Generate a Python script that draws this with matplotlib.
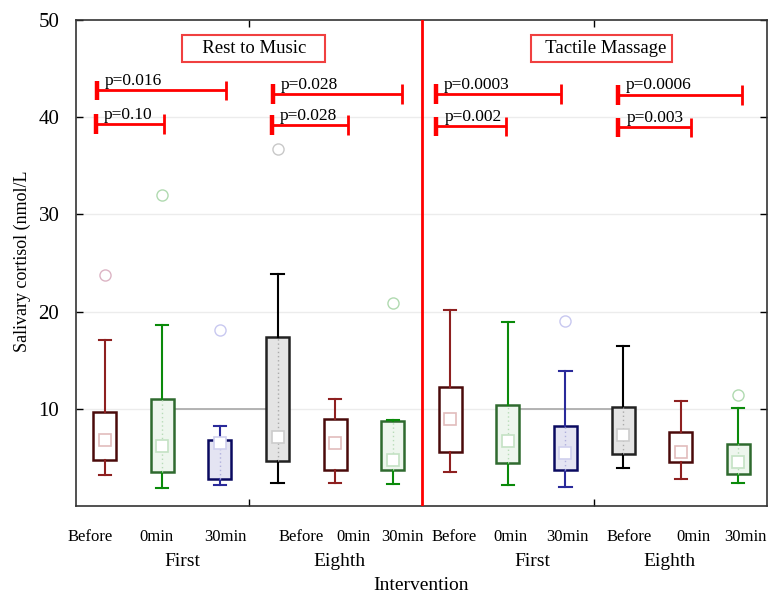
import matplotlib
matplotlib.use("Agg")
import matplotlib.pyplot as plt
import matplotlib.transforms as mtransforms

plt.rcParams['font.family'] = ['Liberation Serif', 'DejaVu Serif']

# ---------------- data ----------------
sub_labels = ["Before", "0min", "30min"] * 4
group_labels = ["First", "Eighth", "First", "Eighth"]
panel_titles = ["Rest to Music", "Tactile Massage"]

whisker_low = [3.22, 1.81, 2.16, 2.33, 2.33, 2.23, 3.49, 2.12, 1.99, 3.91, 2.81, 2.33]
q1          = [4.69, 3.49, 2.74, 4.62, 3.70, 3.70, 5.51, 4.42, 3.73, 5.38, 4.52, 3.32]
median      = [6.78, 6.20, 6.44, 7.06, 6.44, 4.69, 9.00, 6.65, 5.41, 7.26, 5.55, 4.49]
q3          = [9.69, 10.96, 6.78, 17.40, 8.91, 8.70, 12.20, 10.41, 8.19, 10.21, 7.61, 6.37]
whisker_high = [17.03, 18.67, 8.22, 23.90, 10.96, 8.80, 20.20, 18.90, 13.84, 16.41, 10.83, 10.10]
outliers = [[23.8], [32.0], [18.1], [36.7], [], [20.9], [], [], [19.05], [], [], [11.38]]

# significance brackets
p_left  = [0.36, 0.35, 3.42, 3.40, 6.25, 6.26, 9.41, 9.42]
p_right = [2.60, 1.53, 5.66, 4.72, 8.42, 7.47, 11.56, 10.68]
p_y     = [42.75, 39.30, 42.40, 39.20, 42.40, 39.05, 42.30, 38.95]
p_text  = ["p=0.016", "p=0.10", "p=0.028", "p=0.028",
           "p=0.0003", "p=0.002", "p=0.0006", "p=0.003"]

ref_y = 10
ref_spans = [(1, 3), (7, 9)]   # box index pairs joined by the reference line

# ---------------- styles ----------------
styles = {
    "maroon": dict(edge="#4a0a0a", whisk="#8e2020", fill="white", mark="#e2bcbc", out="#dcb4c4", dotted=None),
    "green":  dict(edge="#2f6a2f", whisk="#0a8a0a", fill="#eef6ee", mark="#c4e2c4", out="#b0dab0", dotted="#b8dcb8"),
    "navy":   dict(edge="#0a0a60", whisk="#2a2a9a", fill="#e4e4f2", mark="#d0d0ee", out="#c8c8f0", dotted="#b0b0dd"),
    "black":  dict(edge="#222222", whisk="#000000", fill="#e4e4e4", mark="#cccccc", out="#c8c8c8", dotted="#aaaaaa"),
}
box_style = ["maroon", "green", "navy", "black", "maroon", "green",
             "maroon", "green", "navy", "black", "maroon", "green"]

sub_label_x = [0.24, 1.39, 2.59, 3.91, 4.81, 5.66, 6.56, 7.55, 8.54, 9.60, 10.73, 11.63]
group_label_x = [1.84, 4.58, 7.92, 10.31]
title_x = [3.09, 9.12]
title_text = ["   Rest to Music   ", "  Tactile Massage"]

fig = plt.figure(figsize=(7.68, 5.94), dpi=100)
ax = fig.add_axes([76 / 768, 1 - 506 / 594, 691 / 768, 486 / 594])

positions = [i + 0.5 for i in range(12)]

# gridlines
for g in [10, 20, 30, 40]:
    ax.axhline(g, color="#ececec", lw=1, zorder=0)
for a, b in ref_spans:
    ax.hlines(ref_y, positions[a], positions[b], color="#a8a8a8", lw=1.2, zorder=1)

for i, pos in enumerate(positions):
    st = styles[box_style[i]]
    stats = [dict(whislo=whisker_low[i], q1=q1[i], med=median[i], q3=q3[i],
                  whishi=whisker_high[i], fliers=outliers[i])]
    ax.bxp(stats, positions=[pos], widths=0.4, patch_artist=True, showfliers=True,
           boxprops=dict(facecolor=st["fill"], edgecolor=st["edge"], linewidth=1.8),
           whiskerprops=dict(color=st["whisk"], linewidth=1.5),
           capprops=dict(color=st["whisk"], linewidth=1.5),
           capwidths=0.21,
           medianprops=dict(linewidth=0),
           flierprops=dict(marker="o", markerfacecolor="none",
                           markeredgecolor=st["out"], markersize=8, markeredgewidth=1),
           manage_ticks=False, zorder=3)
    if st["dotted"]:
        ax.vlines(pos, q1[i], q3[i], colors=st["dotted"], linestyles=(0, (1, 2)),
                  lw=1, zorder=4)
    ax.plot([pos], [median[i]], marker="s", markersize=9, markerfacecolor="white",
            markeredgecolor=st["mark"], markeredgewidth=1.2, zorder=5, linestyle="none")

# divider between panels
ax.axvline(6, color="red", lw=2, zorder=6)

# brackets
for l, r, y, t in zip(p_left, p_right, p_y, p_text):
    ax.hlines(y, l, r, color="red", lw=2, zorder=6)
    ax.vlines(l, y - 1.0, y + 1.0, color="red", lw=3.2, zorder=6)
    ax.vlines(r, y - 1.0, y + 1.0, color="red", lw=2, zorder=6)
    ax.text(l + 0.14, y + 0.55, t, fontsize=12.5, ha="left", va="baseline", zorder=7)

# panel titles
for xc, t in zip(title_x, title_text):
    ax.text(xc, 47.05, t, fontsize=13.5, ha="center", va="center", zorder=7,
            bbox=dict(boxstyle="square,pad=0.28", facecolor="white", edgecolor="#f04040", lw=1.5))

ax.set_xlim(0, 12)
ax.set_ylim(0, 50)
ax.set_yticks([10, 20, 30, 40, 50])
ax.set_yticklabels(["10", "20", "30", "40", "50"], fontsize=15)
ax.set_xticks([3, 9])
ax.set_xticklabels(["", ""])
ax.tick_params(axis="y", direction="in", length=5, width=1, right=True, pad=12)
ax.tick_params(axis="x", direction="in", length=5, width=1, top=True)
for s in ax.spines.values():
    s.set_color("#333333")
    s.set_linewidth(1.2)

trans = mtransforms.blended_transform_factory(ax.transData, ax.transAxes)
for x, t in zip(sub_label_x, sub_labels):
    ax.text(x, -31 / 486, t, transform=trans, fontsize=12, ha="center", va="center")
for x, t in zip(group_label_x, group_labels):
    ax.text(x, -56 / 486, t, transform=trans, fontsize=14, ha="center", va="center")
ax.text(6.0, -80 / 486, "Intervention", transform=trans, fontsize=14, ha="center", va="center")

fig.text(22 / 768, 1 - 261 / 594, "Salivary cortisol (nmol/L", rotation=90,
         fontsize=13, ha="center", va="center")

fig.savefig("out.png", dpi=100)
